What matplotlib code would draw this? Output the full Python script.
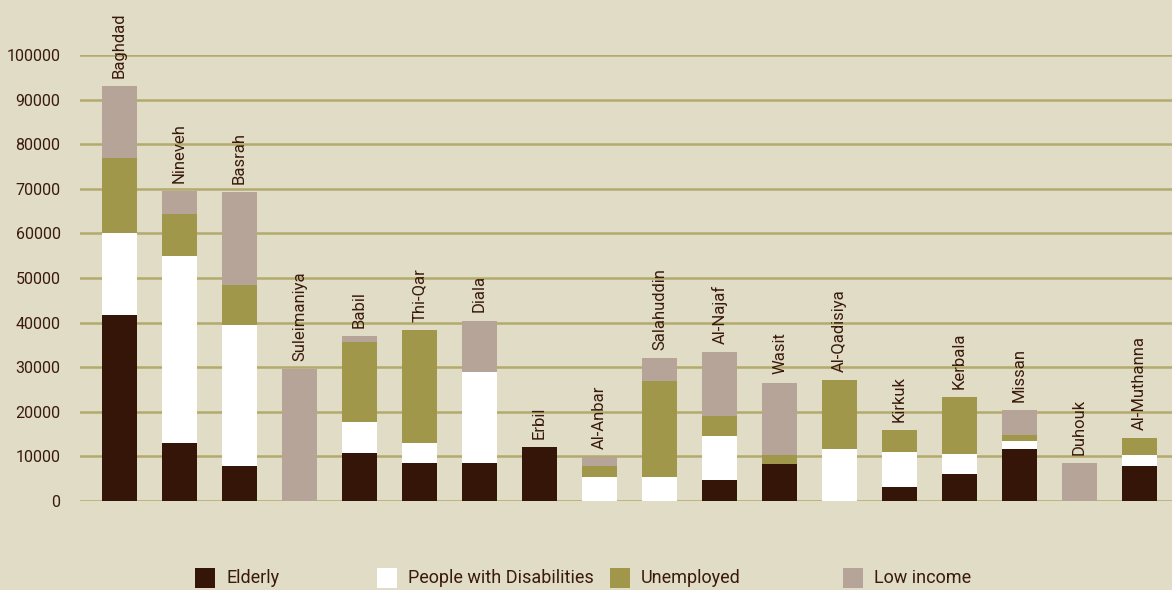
import matplotlib
matplotlib.use("Agg")
import matplotlib.pyplot as plt
from matplotlib.patches import Rectangle
import numpy as np

plt.rcParams['font.family'] = ['Roboto', 'DejaVu Sans']

governorates = ["Baghdad", "Nineveh", "Basrah", "Suleimaniya", "Babil", "Thi-Qar", "Diala",
                "Erbil", "Al-Anbar", "Salahuddin", "Al-Najaf", "Wasit", "Al-Qadisiya",
                "Kirkuk", "Kerbala", "Missan", "Duhouk", "Al-Muthanna"]
elderly      = [41700, 13000, 7850, 0, 10800, 8500, 8500, 12100, 0, 0, 4700, 8300, 0, 3100, 6050, 11700, 0, 7850]
disabilities = [18400, 41900, 31650, 0, 6900, 4500, 20400, 0, 5400, 5400, 9900, 0, 11700, 7900, 4450, 1800, 0, 2450]
unemployed   = [16800, 9400, 8900, 0, 18000, 25300, 0, 0, 2400, 21500, 4500, 2000, 15400, 4900, 12800, 1300, 0, 3800]
low_income   = [16100, 5200, 20900, 29600, 1300, 0, 11500, 0, 2100, 5200, 14300, 16200, 0, 0, 0, 5600, 8500, 0]

series_names = ["Elderly", "People with Disabilities", "Unemployed", "Low income"]
series_vals = [elderly, disabilities, unemployed, low_income]
colors = ["#361509", "#ffffff", "#a0974a", "#b6a498"]

yticks = list(range(0, 100001, 10000))

BG = "#e0dcc6"
TXT = "#3a1a0c"
GRID = "#b3aa6c"

W, H = 1172, 590
fig = plt.figure(figsize=(W / 100, H / 100), dpi=100, facecolor=BG)
ax = fig.add_axes([80 / W, (H - 501) / H, (W - 80) / W, (501 - 55) / H])
ax.set_facecolor(BG)

x = np.arange(len(governorates))
bottom = np.zeros(len(governorates))
for name, vals, c in zip(series_names, series_vals, colors):
    v = np.array(vals, dtype=float)
    ax.bar(x, v, bottom=bottom, width=0.585, color=c, label=name, linewidth=0, zorder=3)
    bottom += v

for i, name in enumerate(governorates):
    ax.annotate(name, (x[i], bottom[i]), xytext=(0, 6), textcoords='offset points',
                rotation=90, ha='center', va='bottom', fontsize=12, color=TXT,
                annotation_clip=False)

ax.set_xlim(-0.658, 17.54)
ax.set_ylim(0, 100000)
ax.set_yticks(yticks)
ax.set_yticklabels([str(t) for t in yticks])
ax.set_xticks([])
ax.tick_params(axis='y', length=0, pad=14, labelsize=11.5, labelcolor=TXT)
for s in ax.spines.values():
    s.set_visible(False)
ax.yaxis.grid(True, color=GRID, linewidth=1.8, zorder=0)
ax.set_axisbelow(True)

# Legend (manual placement as in reference)
leg_x = [195, 377, 610, 843]
for lx, name, c in zip(leg_x, series_names, colors):
    fig.add_artist(Rectangle((lx / W, (H - 588) / H), 20 / W, 20 / H,
                             transform=fig.transFigure, facecolor=c, edgecolor='none'))
    fig.text((lx + 31) / W, (H - 578) / H, name, ha='left', va='center',
             fontsize=13, color=TXT)

fig.savefig("out.png", dpi=100, facecolor=BG)
